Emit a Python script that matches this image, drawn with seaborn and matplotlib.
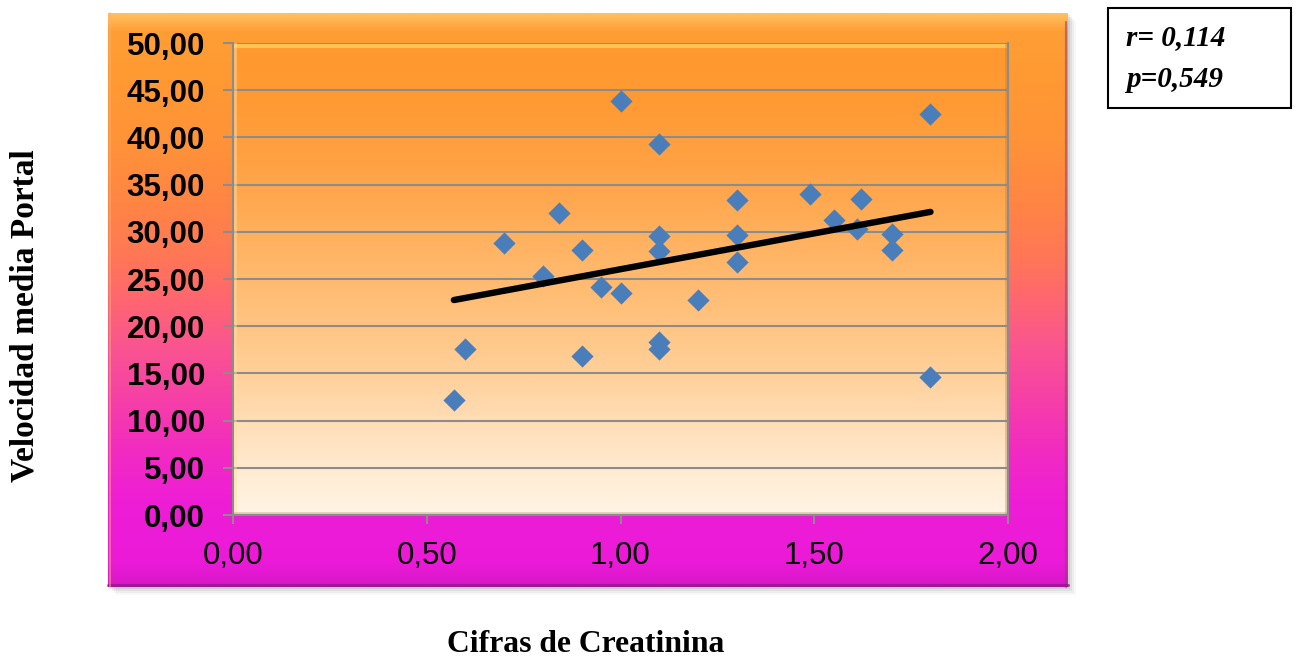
import numpy as np
import matplotlib
matplotlib.use("Agg")
import matplotlib.pyplot as plt
from matplotlib.colors import LinearSegmentedColormap
from matplotlib.patches import Rectangle
import seaborn as sns

# Creatinine levels (x) and mean portal velocity (y) per patient
creatinina = [0.57, 0.60, 0.70, 0.80, 0.84, 0.90, 0.90, 0.95, 1.00, 1.00,
              1.10, 1.10, 1.10, 1.10, 1.10, 1.20, 1.30, 1.30, 1.30, 1.49,
              1.55, 1.61, 1.62, 1.70, 1.70, 1.80, 1.80]
velocidad = [12.2, 17.6, 28.8, 25.3, 32.0, 28.1, 16.8, 24.2, 43.9, 23.5,
             39.3, 29.6, 28.0, 18.3, 17.6, 22.8, 33.4, 29.7, 26.8, 34.0,
             31.2, 30.3, 33.5, 29.8, 28.1, 42.5, 14.6]

x_ticks = [0.0, 0.5, 1.0, 1.5, 2.0]
y_ticks = [0, 5, 10, 15, 20, 25, 30, 35, 40, 45, 50]
x_title = "Cifras de Creatinina"
y_title = "Velocidad media Portal"
stats_lines = ["r= 0,114", "p=0,549"]

W, H = 1299, 657
sns.set_style("white")
plt.rcParams["font.family"] = ["Liberation Sans", "DejaVu Sans"]
plt.rcParams["text.color"] = "black"
plt.rcParams["xtick.labelcolor"] = "black"
plt.rcParams["ytick.labelcolor"] = "black"

fig = plt.figure(figsize=(W / 100, H / 100), dpi=100)
fig.patch.set_facecolor("white")


def fx(px):
    return px / W


def fy(py):
    return 1 - py / H


def comma(v):
    return f"{v:.2f}".replace(".", ",")


# ---- outer chart box: soft shadow, vertical gradient, bevelled edges ----
box_l, box_t, box_r, box_b = 108, 13, 1068, 587
for off, a in [(8, 0.05), (6, 0.08), (4, 0.12), (2, 0.15)]:
    fig.patches.append(Rectangle((fx(box_l + off), fy(box_b + off)),
                                 (box_r - box_l) / W, (box_b - box_t) / H,
                                 transform=fig.transFigure, facecolor="#7a7a7a",
                                 alpha=a, lw=0, zorder=-5))

grad = np.linspace(0, 1, 512).reshape(-1, 1)
outer_cmap = LinearSegmentedColormap.from_list("outer", [
    (0.00, "#D818C8"), (0.04, "#EA1AD8"), (0.15, "#EE1ED6"), (0.24, "#F22CC0"),
    (0.33, "#F640A6"), (0.42, "#FA5590"), (0.50, "#FF6670"), (0.57, "#FF7658"),
    (0.67, "#FF8544"), (0.78, "#FF9338"), (0.90, "#FF9A32"), (0.97, "#FF9E36"),
    (1.00, "#FFC060")])
bg = fig.add_axes([fx(box_l), fy(box_b), (box_r - box_l) / W, (box_b - box_t) / H],
                  zorder=0)
bg.imshow(grad, aspect="auto", cmap=outer_cmap, origin="lower",
          extent=[0, 1, 0, 1], interpolation="bilinear")
bg.axis("off")
# bevel: darker right and bottom edges, lighter left edge
bg.plot([0.998, 0.998], [0.0, 0.985], color="#9a3c6a", lw=1.6, alpha=0.55,
        transform=bg.transAxes, clip_on=False)
bg.plot([0.0, 1.0], [0.003, 0.003], color="#8e1486", lw=2.2, alpha=0.7,
        transform=bg.transAxes, clip_on=False)
bg.plot([0.002, 0.002], [0.0, 1.0], color="#ffb070", lw=1.2, alpha=0.6,
        transform=bg.transAxes, clip_on=False)

# ---- plot area ----
ax = fig.add_axes([fx(233), fy(515), 775 / W, 472 / H], zorder=2)
plot_cmap = LinearSegmentedColormap.from_list("plot", [
    (0.00, "#FFF4E6"), (0.06, "#FFEFD9"), (0.16, "#FFE2C0"), (0.29, "#FFD19C"),
    (0.45, "#FFBF78"), (0.56, "#FFB464"), (0.67, "#FFA850"), (0.77, "#FFA040"),
    (0.88, "#FF9A33"), (1.00, "#FF982E")])
ax.imshow(grad, aspect="auto", cmap=plot_cmap, origin="lower",
          extent=[0, 2, 0, 50], interpolation="bilinear", zorder=0)

sns.scatterplot(x=creatinina, y=velocidad, marker="D", s=128, color="#4A7EBB",
                linewidth=0, ax=ax, zorder=3, legend=False)
sns.regplot(x=creatinina, y=velocidad, scatter=False, ci=None, truncate=True,
            color="black", ax=ax,
            line_kws=dict(lw=4.6, solid_capstyle="round", zorder=4))

ax.set_xlim(0, 2)
ax.set_ylim(0, 50)
ax.set_xlabel("")
ax.set_ylabel("")
ax.set_axisbelow(True)
ax.yaxis.grid(True, color="#8C8C8C", lw=1.5)
ax.xaxis.grid(False)

ax.set_yticks(y_ticks, labels=[comma(v) for v in y_ticks],
              fontweight="bold", fontsize=22.5, color="black")
ax.set_xticks(x_ticks, labels=[comma(v) for v in x_ticks], fontsize=22.5,
              color="black")
ax.tick_params(axis="y", direction="out", length=7.2, width=1.5,
               color="#8C8C8C", pad=13, left=True)
ax.tick_params(axis="x", direction="out", length=6.5, width=1.5,
               color="#8C8C8C", pad=12, bottom=True)
for side in ["left", "bottom", "right"]:
    ax.spines[side].set_color("#8C8C8C")
    ax.spines[side].set_linewidth(1.5)
ax.spines["top"].set_visible(False)

# bevel highlights on the plot area
ax.plot([0, 2], [49.7, 49.7], color="#FFD060", lw=3, alpha=0.8, zorder=1)
ax.plot([0.004, 0.004], [0, 50], color="#FFE0A0", lw=2, alpha=0.5, zorder=1)
ax.plot([1.994, 1.994], [0, 50], color="#B07A50", lw=2, alpha=0.35, zorder=1)
ax.plot([0, 2], [0.25, 0.25], color="#B08A60", lw=2, alpha=0.35, zorder=1)

# ---- axis titles ----
fig.text(fx(25), fy(316), y_title, rotation=90, ha="center", va="center",
         family=["Liberation Serif", "DejaVu Serif"], weight="bold", fontsize=24,
         color="black")
fig.text(fx(586), fy(652), x_title, ha="center", va="baseline",
         family=["Liberation Serif", "DejaVu Serif"], weight="bold", fontsize=22.8,
         color="black")

# ---- statistics box ----
fig.patches.append(Rectangle((fx(1108), fy(108)), (1291 - 1108) / W, 100 / H,
                             transform=fig.transFigure, facecolor="white",
                             edgecolor="black", lw=1.5, zorder=1))
for line, base in zip(stats_lines, [45, 87]):
    fig.text(fx(1126), fy(base), line, ha="left", va="baseline",
             family=["Liberation Serif", "DejaVu Serif"], weight="bold",
             style="italic", fontsize=21, zorder=2, color="black")

fig.savefig("out.png", dpi=100)
